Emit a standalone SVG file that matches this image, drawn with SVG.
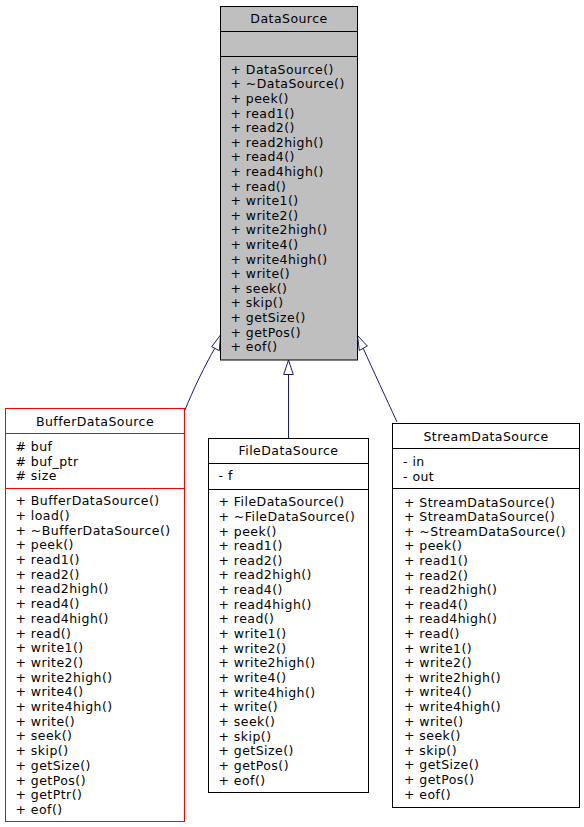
<svg xmlns="http://www.w3.org/2000/svg" width="584" height="827" viewBox="0 0 584 827">
<style>
text{font-family:"DejaVu Sans","Liberation Sans",sans-serif;font-size:12.5px;letter-spacing:0.45px;fill:#000}
.t{text-anchor:middle}
.box{fill:#fff;stroke:#000;stroke-width:1}
.red{fill:#fff;stroke:#ff0000;stroke-width:1}
.gray{fill:#bfbfbf;stroke:#000;stroke-width:1}
.sep{stroke:#000;stroke-width:1}
.sepr{stroke:#ff0000;stroke-width:1}
.edge{fill:none;stroke:#191970;stroke-width:1}
.head{fill:#fff;stroke:#191970;stroke-width:1}
</style>
<rect width="584" height="827" fill="#fff"/>
<g id="edges">
<path class="edge" d="M185,410 C193,390 205,365 215,348"/>
<polygon class="head" points="220.5,335 211.7,346.7 219.3,350.7"/>
<path class="edge" d="M288.5,374.5 L288.5,438.5"/>
<polygon class="head" points="288.5,360 283.7,374.5 293.3,374.5"/>
<path class="edge" d="M397,422 C386,398 373,370 363,348"/>
<polygon class="head" points="357.5,335.5 367.3,346 359.3,350.5"/>
</g>
<g id="DataSource">
<rect class="gray" x="220.5" y="6.5" width="137" height="353.5"/>
<line class="sep" x1="220.5" y1="31.5" x2="357.5" y2="31.5"/>
<line class="sep" x1="220.5" y1="56.5" x2="357.5" y2="56.5"/>
<text class="t" x="289" y="23">DataSource</text>
<text x="230.5" y="73.8">+ DataSource()</text>
<text x="230.5" y="88.4">+ ~DataSource()</text>
<text x="230.5" y="103">+ peek()</text>
<text x="230.5" y="117.6">+ read1()</text>
<text x="230.5" y="132.2">+ read2()</text>
<text x="230.5" y="146.8">+ read2high()</text>
<text x="230.5" y="161.4">+ read4()</text>
<text x="230.5" y="176">+ read4high()</text>
<text x="230.5" y="190.6">+ read()</text>
<text x="230.5" y="205.2">+ write1()</text>
<text x="230.5" y="219.8">+ write2()</text>
<text x="230.5" y="234.4">+ write2high()</text>
<text x="230.5" y="249">+ write4()</text>
<text x="230.5" y="263.6">+ write4high()</text>
<text x="230.5" y="278.2">+ write()</text>
<text x="230.5" y="292.8">+ seek()</text>
<text x="230.5" y="307.4">+ skip()</text>
<text x="230.5" y="322">+ getSize()</text>
<text x="230.5" y="336.6">+ getPos()</text>
<text x="230.5" y="351.2">+ eof()</text>
</g>
<g id="BufferDataSource">
<rect class="red" x="5.5" y="408.5" width="179" height="413"/>
<line class="sepr" x1="5.5" y1="433.5" x2="184.5" y2="433.5"/>
<line class="sepr" x1="5.5" y1="488.5" x2="184.5" y2="488.5"/>
<text class="t" x="95" y="426">BufferDataSource</text>
<text x="15.5" y="451.2"># buf</text>
<text x="15.5" y="465.8"># buf_ptr</text>
<text x="15.5" y="480.4"># size</text>
<text x="15.5" y="505.2">+ BufferDataSource()</text>
<text x="15.5" y="519.9">+ load()</text>
<text x="15.5" y="534.6">+ ~BufferDataSource()</text>
<text x="15.5" y="549.3">+ peek()</text>
<text x="15.5" y="564">+ read1()</text>
<text x="15.5" y="578.7">+ read2()</text>
<text x="15.5" y="593.4">+ read2high()</text>
<text x="15.5" y="608.1">+ read4()</text>
<text x="15.5" y="622.8">+ read4high()</text>
<text x="15.5" y="637.5">+ read()</text>
<text x="15.5" y="652.2">+ write1()</text>
<text x="15.5" y="666.9">+ write2()</text>
<text x="15.5" y="681.6">+ write2high()</text>
<text x="15.5" y="696.3">+ write4()</text>
<text x="15.5" y="711">+ write4high()</text>
<text x="15.5" y="725.7">+ write()</text>
<text x="15.5" y="740.4">+ seek()</text>
<text x="15.5" y="755.1">+ skip()</text>
<text x="15.5" y="769.8">+ getSize()</text>
<text x="15.5" y="784.5">+ getPos()</text>
<text x="15.5" y="799.2">+ getPtr()</text>
<text x="15.5" y="813.9">+ eof()</text>
</g>
<g id="FileDataSource">
<rect class="box" x="208.5" y="438.5" width="160" height="354"/>
<line class="sep" x1="208.5" y1="463.5" x2="368.5" y2="463.5"/>
<line class="sep" x1="208.5" y1="489.5" x2="368.5" y2="489.5"/>
<text class="t" x="288.5" y="455.2">FileDataSource</text>
<text x="218.5" y="479.5">- f</text>
<text x="218.5" y="506.2">+ FileDataSource()</text>
<text x="218.5" y="520.85">+ ~FileDataSource()</text>
<text x="218.5" y="535.5">+ peek()</text>
<text x="218.5" y="550.15">+ read1()</text>
<text x="218.5" y="564.8">+ read2()</text>
<text x="218.5" y="579.45">+ read2high()</text>
<text x="218.5" y="594.1">+ read4()</text>
<text x="218.5" y="608.75">+ read4high()</text>
<text x="218.5" y="623.4">+ read()</text>
<text x="218.5" y="638.05">+ write1()</text>
<text x="218.5" y="652.7">+ write2()</text>
<text x="218.5" y="667.35">+ write2high()</text>
<text x="218.5" y="682">+ write4()</text>
<text x="218.5" y="696.65">+ write4high()</text>
<text x="218.5" y="711.3">+ write()</text>
<text x="218.5" y="725.95">+ seek()</text>
<text x="218.5" y="740.6">+ skip()</text>
<text x="218.5" y="755.25">+ getSize()</text>
<text x="218.5" y="769.9">+ getPos()</text>
<text x="218.5" y="784.55">+ eof()</text>
</g>
<g id="StreamDataSource">
<rect class="box" x="392.5" y="423.5" width="187" height="384"/>
<line class="sep" x1="392.5" y1="448.5" x2="579.5" y2="448.5"/>
<line class="sep" x1="392.5" y1="488.5" x2="579.5" y2="488.5"/>
<text class="t" x="486" y="441.2">StreamDataSource</text>
<text x="403" y="466.2">- in</text>
<text x="403" y="480.8">- out</text>
<text x="404" y="506.5">+ StreamDataSource()</text>
<text x="404" y="521.1">+ StreamDataSource()</text>
<text x="404" y="535.7">+ ~StreamDataSource()</text>
<text x="404" y="550.3">+ peek()</text>
<text x="404" y="564.9">+ read1()</text>
<text x="404" y="579.5">+ read2()</text>
<text x="404" y="594.1">+ read2high()</text>
<text x="404" y="608.7">+ read4()</text>
<text x="404" y="623.3">+ read4high()</text>
<text x="404" y="637.9">+ read()</text>
<text x="404" y="652.5">+ write1()</text>
<text x="404" y="667.1">+ write2()</text>
<text x="404" y="681.7">+ write2high()</text>
<text x="404" y="696.3">+ write4()</text>
<text x="404" y="710.9">+ write4high()</text>
<text x="404" y="725.5">+ write()</text>
<text x="404" y="740.1">+ seek()</text>
<text x="404" y="754.7">+ skip()</text>
<text x="404" y="769.3">+ getSize()</text>
<text x="404" y="783.9">+ getPos()</text>
<text x="404" y="798.5">+ eof()</text>
</g>
</svg>
